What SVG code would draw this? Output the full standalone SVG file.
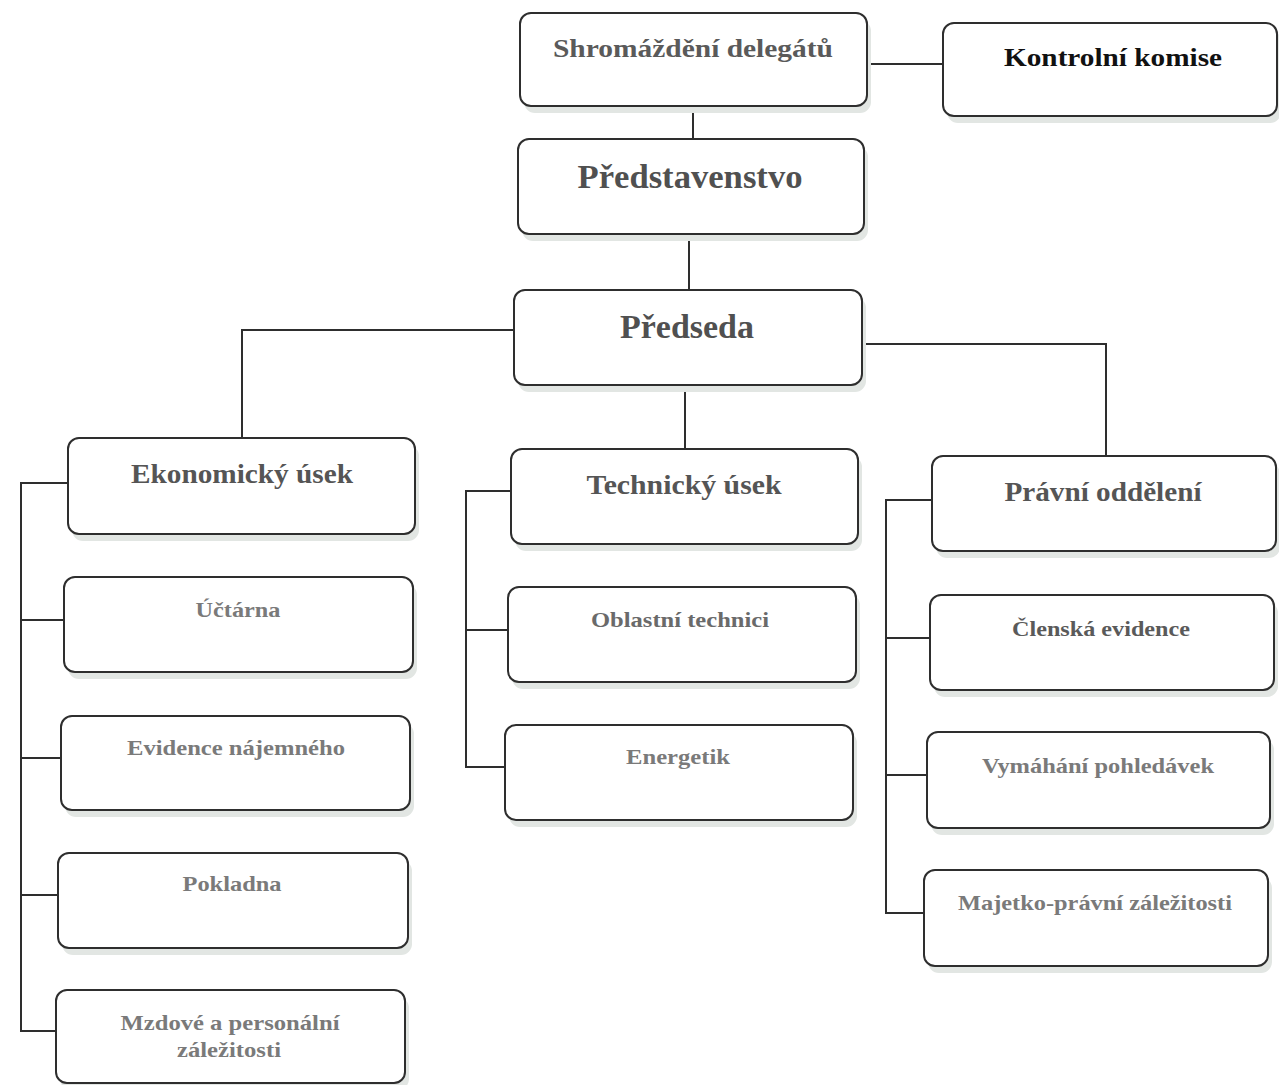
<svg xmlns="http://www.w3.org/2000/svg" width="1279" height="1085" viewBox="0 0 1279 1085">
<style>
.sh{fill:#e2e6e3}
.bx{fill:#ffffff;stroke:#2e2e2e;stroke-width:2}
.t{font-family:"Liberation Serif","Times New Roman",serif;font-weight:bold;text-anchor:middle}
.h1{fill:#505050;font-size:33px}
.h2{fill:#555555;font-size:27px}
.h3{fill:#7a7a7a;font-size:21px}
.k{fill:#111111;font-size:26px}
.c{fill:none;stroke:#2e2e2e;stroke-width:2}
</style>
<rect width="1279" height="1085" fill="#ffffff"/>
<g id="connectors">
<path class="c" d="M868 64 H942"/>
<path class="c" d="M693 107 V139"/>
<path class="c" d="M689 235 V290"/>
<path class="c" d="M514 330 H242 V438"/>
<path class="c" d="M685 385 V449"/>
<path class="c" d="M862 344 H1106 V458"/>
<path class="c" d="M68 483 H21 V1031 H56"/>
<path class="c" d="M21 620 H64"/>
<path class="c" d="M21 758 H61"/>
<path class="c" d="M21 895 H58"/>
<path class="c" d="M511 491 H466 V767 H505"/>
<path class="c" d="M466 630 H508"/>
<path class="c" d="M932 500 H886 V913 H924"/>
<path class="c" d="M886 638 H930"/>
<path class="c" d="M886 775 H927"/>
</g>
<g id="n-shromazdeni">
<rect class="sh" x="524" y="20" width="347" height="93" rx="11"/>
<rect class="bx" x="520" y="13" width="347" height="93" rx="11"/>
<text class="t h2" x="693" y="57" textLength="280" lengthAdjust="spacingAndGlyphs" style="font-size:26px;fill:#5a5a5a">Shromáždění delegátů</text>
</g>
<g id="n-kontrolni">
<rect class="sh" x="947" y="30" width="334" height="93" rx="11"/>
<rect class="bx" x="943" y="23" width="334" height="93" rx="11"/>
<text class="t k" x="1113" y="66" textLength="218" lengthAdjust="spacingAndGlyphs">Kontrolní komise</text>
</g>
<g id="n-predstavenstvo">
<rect class="sh" x="522" y="146" width="346" height="95" rx="11"/>
<rect class="bx" x="518" y="139" width="346" height="95" rx="11"/>
<text class="t h1" x="690" y="188" textLength="225" lengthAdjust="spacingAndGlyphs">Představenstvo</text>
</g>
<g id="n-predseda">
<rect class="sh" x="518" y="297" width="348" height="95" rx="11"/>
<rect class="bx" x="514" y="290" width="348" height="95" rx="11"/>
<text class="t h1" x="687" y="338" textLength="134" lengthAdjust="spacingAndGlyphs">Předseda</text>
</g>
<g id="n-ekonomicky">
<rect class="sh" x="72" y="445" width="347" height="96" rx="11"/>
<rect class="bx" x="68" y="438" width="347" height="96" rx="11"/>
<text class="t h2" x="242" y="483" textLength="222" lengthAdjust="spacingAndGlyphs">Ekonomický úsek</text>
</g>
<g id="n-technicky">
<rect class="sh" x="515" y="456" width="347" height="95" rx="11"/>
<rect class="bx" x="511" y="449" width="347" height="95" rx="11"/>
<text class="t h2" x="684" y="494" textLength="195" lengthAdjust="spacingAndGlyphs">Technický úsek</text>
</g>
<g id="n-pravni">
<rect class="sh" x="936" y="463" width="344" height="95" rx="11"/>
<rect class="bx" x="932" y="456" width="344" height="95" rx="11"/>
<text class="t h2" x="1103" y="501" textLength="197" lengthAdjust="spacingAndGlyphs">Právní oddělení</text>
</g>
<g id="n-uctarna">
<rect class="sh" x="68" y="584" width="349" height="95" rx="11"/>
<rect class="bx" x="64" y="577" width="349" height="95" rx="11"/>
<text class="t h3" x="238" y="617" textLength="85" lengthAdjust="spacingAndGlyphs">Účtárna</text>
</g>
<g id="n-oblastni">
<rect class="sh" x="512" y="594" width="348" height="95" rx="11"/>
<rect class="bx" x="508" y="587" width="348" height="95" rx="11"/>
<text class="t h3" x="680" y="627" textLength="178" lengthAdjust="spacingAndGlyphs" style="fill:#6a6a6a">Oblastní technici</text>
</g>
<g id="n-clenska">
<rect class="sh" x="934" y="602" width="344" height="95" rx="11"/>
<rect class="bx" x="930" y="595" width="344" height="95" rx="11"/>
<text class="t h3" x="1101" y="636" textLength="178" lengthAdjust="spacingAndGlyphs" style="fill:#5a5a5a">Členská evidence</text>
</g>
<g id="n-evidence">
<rect class="sh" x="65" y="723" width="349" height="94" rx="11"/>
<rect class="bx" x="61" y="716" width="349" height="94" rx="11"/>
<text class="t h3" x="236" y="755" textLength="218" lengthAdjust="spacingAndGlyphs">Evidence nájemného</text>
</g>
<g id="n-energetik">
<rect class="sh" x="509" y="732" width="348" height="95" rx="11"/>
<rect class="bx" x="505" y="725" width="348" height="95" rx="11"/>
<text class="t h3" x="678" y="764" textLength="104" lengthAdjust="spacingAndGlyphs">Energetik</text>
</g>
<g id="n-vymahani">
<rect class="sh" x="931" y="739" width="343" height="96" rx="11"/>
<rect class="bx" x="927" y="732" width="343" height="96" rx="11"/>
<text class="t h3" x="1098" y="773" textLength="232" lengthAdjust="spacingAndGlyphs">Vymáhání pohledávek</text>
</g>
<g id="n-pokladna">
<rect class="sh" x="62" y="860" width="350" height="95" rx="11"/>
<rect class="bx" x="58" y="853" width="350" height="95" rx="11"/>
<text class="t h3" x="232" y="891" textLength="99" lengthAdjust="spacingAndGlyphs">Pokladna</text>
</g>
<g id="n-majetko">
<rect class="sh" x="928" y="877" width="344" height="96" rx="11"/>
<rect class="bx" x="924" y="870" width="344" height="96" rx="11"/>
<text class="t h3" x="1095" y="910" textLength="274" lengthAdjust="spacingAndGlyphs">Majetko-právní záležitosti</text>
</g>
<g id="n-mzdove">
<rect class="sh" x="60" y="997" width="349" height="93" rx="11"/>
<rect class="bx" x="56" y="990" width="349" height="93" rx="11"/>
<text class="t h3" x="230" y="1030" textLength="219" lengthAdjust="spacingAndGlyphs">Mzdové a personální</text>
<text class="t h3" x="229" y="1057" textLength="104" lengthAdjust="spacingAndGlyphs">záležitosti</text>
</g>
</svg>
